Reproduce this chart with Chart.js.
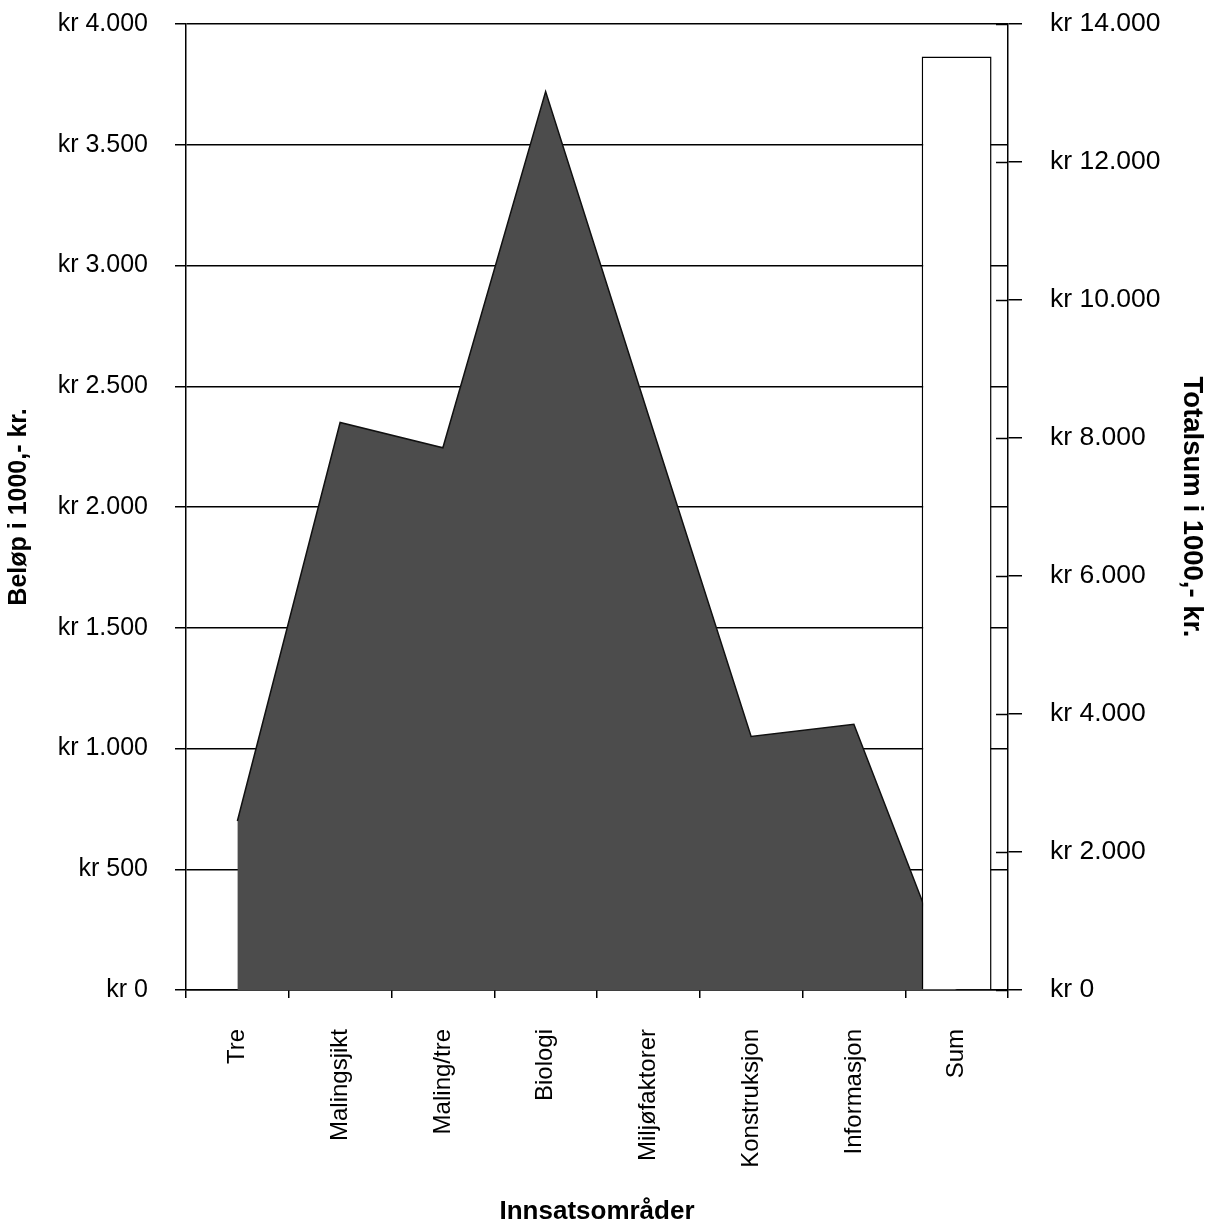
<!DOCTYPE html>
<html>
<head>
<meta charset="utf-8">
<script src="https://cdn.jsdelivr.net/npm/chart.js@4/dist/chart.umd.min.js"></script>
<style>
  html, body { margin: 0; padding: 0; background: #ffffff; }
  canvas { display: block; }
</style>
</head>
<body>
<canvas id="chart" width="1214" height="1227"></canvas>
<script>
// Innsatsområder (categories) and amounts in 1000 kr
const categories = ['Tre', 'Malingsjikt', 'Maling/tre', 'Biologi', 'Miljøfaktorer', 'Konstruksjon', 'Informasjon', 'Sum'];
const belop = [700, 2350, 2245, 3720, 2380, 1050, 1100, 0];
const totalsum = [null, null, null, null, null, null, null, 13530];

// Axis tick values
const leftTickValues = [0, 500, 1000, 1500, 2000, 2500, 3000, 3500, 4000];
const rightTickValues = [0, 2000, 4000, 6000, 8000, 10000, 12000, 14000];

const FONT = "'Liberation Sans', Arial, sans-serif";

function kr(v) {
  return 'kr ' + String(v).replace(/\B(?=(\d{3})+(?!\d))/g, '.');
}

// Short tick marks on the inner side of the right axis, so they cross the axis line
const innerTicks = {
  id: 'innerTicks',
  afterDatasetsDraw(chart) {
    const s = chart.scales.y1;
    const ctx = chart.ctx;
    const x = chart.chartArea.right;
    ctx.save();
    ctx.strokeStyle = '#000';
    ctx.lineWidth = 1.5;
    s.ticks.forEach((t, i) => {
      const y = Math.round(s.getPixelForTick(i)) + 0.5;
      ctx.beginPath();
      ctx.moveTo(x - 12, y);
      ctx.lineTo(x, y);
      ctx.stroke();
    });
    ctx.restore();
  }
};

new Chart(document.getElementById('chart'), {
  data: {
    labels: categories,
    datasets: [
      {
        type: 'bar',
        label: 'Totalsum',
        data: totalsum,
        yAxisID: 'y1',
        backgroundColor: '#ffffff',
        borderColor: '#000000',
        borderWidth: 1.5,
        barPercentage: 0.68,
        categoryPercentage: 1,
        order: 0
      },
      {
        type: 'line',
        label: 'Beløp',
        data: belop,
        yAxisID: 'y',
        fill: 'origin',
        backgroundColor: '#4c4c4c',
        borderColor: '#111111',
        borderWidth: 1.5,
        pointRadius: 0,
        tension: 0,
        order: 1
      }
    ]
  },
  options: {
    responsive: false,
    animation: false,
    layout: { padding: { top: 24, left: 0, right: 0, bottom: 0 } },
    plugins: {
      legend: { display: false },
      tooltip: { enabled: false }
    },
    scales: {
      x: {
        type: 'category',
        offset: true,
        grid: {
          offset: true,
          drawOnChartArea: false,
          drawTicks: true,
          tickLength: 8,
          color: '#000',
          lineWidth: 1.5
        },
        border: { display: true, color: '#000', width: 1.5 },
        ticks: {
          color: '#000',
          font: { family: FONT, size: 24 },
          minRotation: 90,
          maxRotation: 90,
          autoSkip: false,
          padding: 31
        },
        title: {
          display: true,
          text: 'Innsatsområder',
          color: '#000',
          font: { family: FONT, size: 26, weight: 'bold', lineHeight: 1 },
          padding: { top: 0, bottom: 2 }
        },
        afterFit(scale) { scale.height = 237; }
      },
      y: {
        type: 'linear',
        position: 'left',
        min: 0,
        max: 4000,
        afterBuildTicks(scale) { scale.ticks = leftTickValues.map(v => ({ value: v })); },
        grid: {
          color: '#000',
          lineWidth: 1.5,
          tickLength: 11,
          drawTicks: true
        },
        border: { display: true, color: '#000', width: 1.5 },
        ticks: {
          color: '#000',
          font: { family: FONT, size: 25 },
          padding: 27,
          callback: v => kr(v)
        },
        title: {
          display: true,
          text: 'Beløp i 1000,- kr.',
          color: '#000',
          font: { family: FONT, size: 25, weight: 'bold', lineHeight: 1.2 },
          padding: { top: 4, bottom: 0 }
        },
        afterFit(scale) {
          scale.width = 186;
          scale.paddingTop = 0;
          scale.paddingBottom = 0;
        }
      },
      y1: {
        type: 'linear',
        position: 'right',
        min: 0,
        max: 14000,
        afterBuildTicks(scale) { scale.ticks = rightTickValues.map(v => ({ value: v })); },
        grid: {
          drawOnChartArea: false,
          color: '#000',
          lineWidth: 1.5,
          tickLength: 14,
          drawTicks: true
        },
        border: { display: true, color: '#000', width: 1.5 },
        ticks: {
          color: '#000',
          font: { family: FONT, size: 26.5 },
          padding: 28,
          callback: v => kr(v)
        },
        title: {
          display: true,
          text: 'Totalsum i 1000,- kr.',
          color: '#000',
          font: { family: FONT, size: 27.5, weight: 'bold', lineHeight: 1.2 },
          padding: { top: 6, bottom: 0 }
        },
        afterFit(scale) {
          scale.width = 206;
          scale.paddingTop = 0;
          scale.paddingBottom = 0;
        }
      }
    }
  },
  plugins: [innerTicks]
});
</script>
</body>
</html>
